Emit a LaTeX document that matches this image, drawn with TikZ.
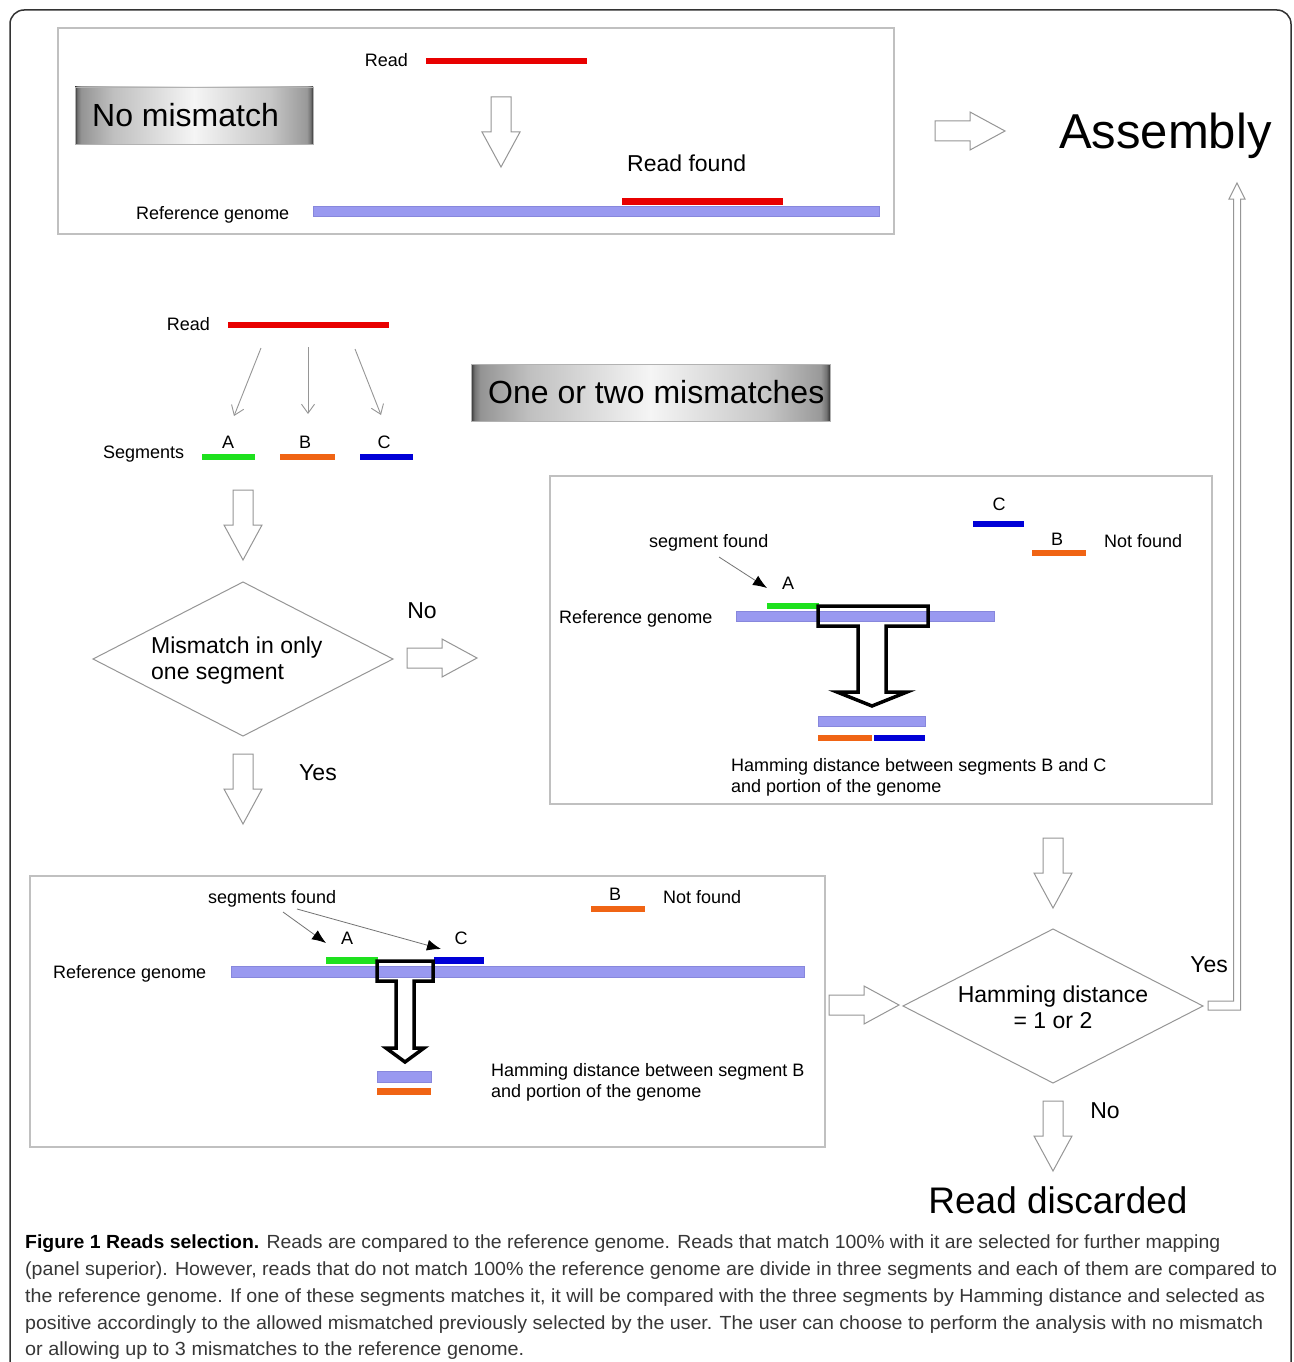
\documentclass[tikz,border=0pt]{standalone}
\usepackage{fontspec}
\setmainfont{Liberation Sans}
\usepackage{graphicx}
\usetikzlibrary{arrows.meta}
\definecolor{lav}{RGB}{153,153,240}
\definecolor{lavd}{RGB}{135,135,220}
\definecolor{rred}{RGB}{232,0,0}
\definecolor{sgreen}{RGB}{30,225,30}
\definecolor{sorange}{RGB}{240,100,20}
\definecolor{sblue}{RGB}{0,0,215}
\definecolor{openc}{RGB}{150,150,150}
\definecolor{panelc}{RGB}{192,192,192}
\definecolor{capc}{RGB}{55,55,55}
\pgfdeclarehorizontalshading{boxshade}{100bp}{color(0bp)=(black!80); color(25bp)=(black!80); color(25.5bp)=(black!55); color(26.3bp)=(black!42); color(33bp)=(black!25); color(50bp)=(black!4); color(66bp)=(black!22); color(73.7bp)=(black!40); color(74.5bp)=(black!55); color(75bp)=(black!80); color(100bp)=(black!80)}
\tikzset{
  panel/.style={draw=panelc, line width=1.2pt},
  openar/.style={draw=openc, line width=1pt, fill=white, line join=miter},
  lbl/.style={font=\fontsize{18}{21}\selectfont, inner sep=0pt},
  mlbl/.style={font=\fontsize{23}{26}\selectfont, inner sep=0pt},
  biglbl/.style={font=\fontsize{32}{36}\selectfont, inner sep=0pt},
  thinar/.style={draw=openc, line width=0.9pt, -{Straight Barb[length=9pt,width=13pt]}},
  fndar/.style={draw=black!55, line width=0.8pt, -{Latex[length=14pt,width=11pt,color=black]}},
  tarrow/.style={draw=black, line width=3.5pt, line join=miter},
  lavbar/.style={fill=lav, draw=lavd, line width=0.6pt},
  redbar/.style={fill=rred},
  grbar/.style={fill=sgreen},
  orbar/.style={fill=sorange},
  blbar/.style={fill=sblue},
  gbox/.style={shading=boxshade, draw=black!30, line width=0.8pt},
  capline/.style={anchor=base west, inner sep=0pt, font=\fontsize{19}{22}\selectfont, text=capc},
  openarrow/.pic={\path[openar] (0,-10) -- (35,-10) -- (35,-19) -- (70,0) -- (35,19) -- (35,10) -- (0,10) -- cycle;}
}
\begin{document}
\begin{tikzpicture}[x=1pt,y=-1pt]
\useasboundingbox (0,0) rectangle (1293,1362);
\fill[white] (0,0) rectangle (1293,1362);
% outer frame
\draw[black!80, line width=1.5pt, rounded corners=14] (10,1365) -- (10,10) -- (1291,10) -- (1291,1365);

% ---------- top panel: no mismatch ----------
\draw[panel] (58,28) rectangle (894,234);
\path[gbox] (75,87) rectangle (313,144);
\node[biglbl, anchor=mid west] (nomis) at (92,124) {No mismatch};
\node[lbl, anchor=mid east] (read1) at (408,64) {Read};
\path[redbar] (426,58) rectangle (587,64);
\pic[rotate=-90] at (501,97) {openarrow};
\node[mlbl, anchor=mid west] (found1) at (627,169) {Read found};
\node[lbl, anchor=mid west] (ref1) at (136,217) {Reference genome};
\path[redbar] (622,198) rectangle (783,205);
\path[lavbar] (313,206) rectangle (879,216);

% assembly
\pic at (935,131) {openarrow};
\node[font=\fontsize{49}{54}\selectfont, inner sep=0pt, anchor=mid west] (assembly) at (1059,146) {Assembly};

% ---------- segments ----------
\node[lbl, anchor=mid east] (read2) at (210,328) {Read};
\path[redbar] (228,322) rectangle (389,328);
\coordinate (s1) at (261,348); \coordinate (e1) at (234,416);
\coordinate (s2) at (308,347); \coordinate (e2) at (308,414);
\coordinate (s3) at (355,349); \coordinate (e3) at (381,415);
\draw[thinar] (s1) -- (e1);
\draw[thinar] (s2) -- (e2);
\draw[thinar] (s3) -- (e3);
\node[lbl, anchor=mid west] (segs) at (103,456) {Segments};
\node[lbl] (la) at (228,442) {A};
\node[lbl] (lb) at (305,442) {B};
\node[lbl] (lc) at (384,442) {C};
\path[grbar] (202,454) rectangle (255,460);
\path[orbar] (280,454) rectangle (335,460);
\path[blbar] (360,454) rectangle (413,460);

\path[gbox] (471,364) rectangle (830,421);
\node[biglbl, anchor=mid west] (onetwo) at (488,401) {One or two mismatches};

\pic[rotate=-90] at (243,490) {openarrow};

% diamond 1
\draw[openc, line width=1pt] (93,659) -- (243,582) -- (393,659) -- (243,736) -- cycle;
\node[mlbl, anchor=west, align=left] (d1) at (151,661) {Mismatch in only\\one segment};
\node[mlbl] (no1) at (422,611) {No};
\pic at (407,658) {openarrow};
\pic[rotate=-90] at (243,754) {openarrow};
\node[mlbl] (yes1) at (318,773) {Yes};

% ---------- right middle panel ----------
\draw[panel] (550,476) rectangle (1212,804);
\node[lbl] (rc) at (999,504) {C};
\path[blbar] (973,521) rectangle (1024,527);
\node[lbl] (rb) at (1057,539) {B};
\path[orbar] (1032,550) rectangle (1086,556);
\node[lbl, anchor=mid west] (rnf) at (1104,545) {Not found};
\node[lbl, anchor=mid west] (rsf) at (649,545) {segment found};
\coordinate (rsfs) at (719,557);
\coordinate (rsfe) at (767,588);
\draw[fndar] (rsfs) -- (rsfe);
\node[lbl] (ra) at (788,583) {A};
\node[lbl, anchor=mid west] (ref2) at (559,621) {Reference genome};
\path[grbar] (767,603) rectangle (819,609);
\path[lavbar] (736,611) rectangle (994,621);
\draw[tarrow] (818,606) -- (928,606) -- (928,626) -- (886,626) -- (886,692) -- (907,692) -- (872,706) -- (837,692) -- (858,692) -- (858,626) -- (818,626) -- cycle;
\path[lavbar] (818,716) rectangle (925,726);
\path[orbar] (818,735) rectangle (872,741);
\path[blbar] (874,735) rectangle (925,741);
\node[lbl, anchor=north west, align=left, font=\fontsize{18}{20.5}\selectfont] (ham2) at (731,758.5) {Hamming distance between segments B and C\\and portion of the genome};

\pic[rotate=-90] at (1053,838) {openarrow};

% diamond 2
\draw[openc, line width=1pt] (903,1006) -- (1053,929) -- (1203,1006) -- (1053,1083) -- cycle;
\node[mlbl, align=center] (d2) at (1053,1007) {Hamming distance\\= 1 or 2};
\node[mlbl] (yes2) at (1209,965) {Yes};
\path[openar, fill=none] (1208,1001) -- (1233.5,1001) -- (1233.5,199) -- (1229,199) -- (1237,183) -- (1245,199) -- (1240.5,199) -- (1240.5,1010) -- (1208,1010) -- cycle;
\pic at (829,1005) {openarrow};
\pic[rotate=-90] at (1053,1101) {openarrow};
\node[mlbl] (no2) at (1105,1111) {No};
\node[font=\fontsize{37}{42}\selectfont, inner sep=0pt] (disc) at (1058,1200) {Read discarded};

% ---------- bottom-left panel ----------
\draw[panel] (30,876) rectangle (825,1147);
\node[lbl, anchor=mid west] (bsf) at (208,901) {segments found};
\node[lbl] (bb) at (615,894) {B};
\path[orbar] (591,906) rectangle (645,912);
\node[lbl, anchor=mid west] (bnf) at (663,901) {Not found};
\coordinate (b1s) at (283,912); \coordinate (b1e) at (326,943);
\coordinate (b2s) at (297,909); \coordinate (b2e) at (441,949);
\draw[fndar] (b1s) -- (b1e);
\draw[fndar] (b2s) -- (b2e);
\node[lbl] (ba) at (347,938) {A};
\node[lbl] (bc) at (461,938) {C};
\node[lbl, anchor=mid west] (ref3) at (53,976) {Reference genome};
\path[grbar] (326,957) rectangle (378,964);
\path[blbar] (434,957) rectangle (484,964);
\path[lavbar] (231,966) rectangle (804,977);
\draw[tarrow] (377,961) -- (433,961) -- (433,981) -- (414,981) -- (414,1048) -- (424,1048) -- (405,1062) -- (386,1048) -- (396,1048) -- (396,981) -- (377,981) -- cycle;
\path[lavbar] (377,1071) rectangle (431,1082);
\path[orbar] (377,1088) rectangle (431,1095);
\node[lbl, anchor=north west, align=left, font=\fontsize{18}{20.5}\selectfont] (ham3) at (491,1063.5) {Hamming distance between segment B\\and portion of the genome};

% ---------- caption ----------
\node[capline] (c1) at (25,1248) {\resizebox{1195pt}{\height}{\textcolor{black}{\textbf{Figure 1 Reads selection.}} Reads are compared to the reference genome. Reads that match 100\% with it are selected for further mapping}};
\node[capline] (c2) at (25,1275) {\resizebox{1252pt}{\height}{(panel superior). However, reads that do not match 100\% the reference genome are divide in three segments and each of them are compared to}};
\node[capline] (c3) at (25,1302) {\resizebox{1240pt}{\height}{the reference genome. If one of these segments matches it, it will be compared with the three segments by Hamming distance and selected as}};
\node[capline] (c4) at (25,1329) {\resizebox{1238pt}{\height}{positive accordingly to the allowed mismatched previously selected by the user. The user can choose to perform the analysis with no mismatch}};
\node[capline] (c5) at (25,1355) {\resizebox{499pt}{\height}{or allowing up to 3 mismatches to the reference genome.}};
\end{tikzpicture}
\end{document}
